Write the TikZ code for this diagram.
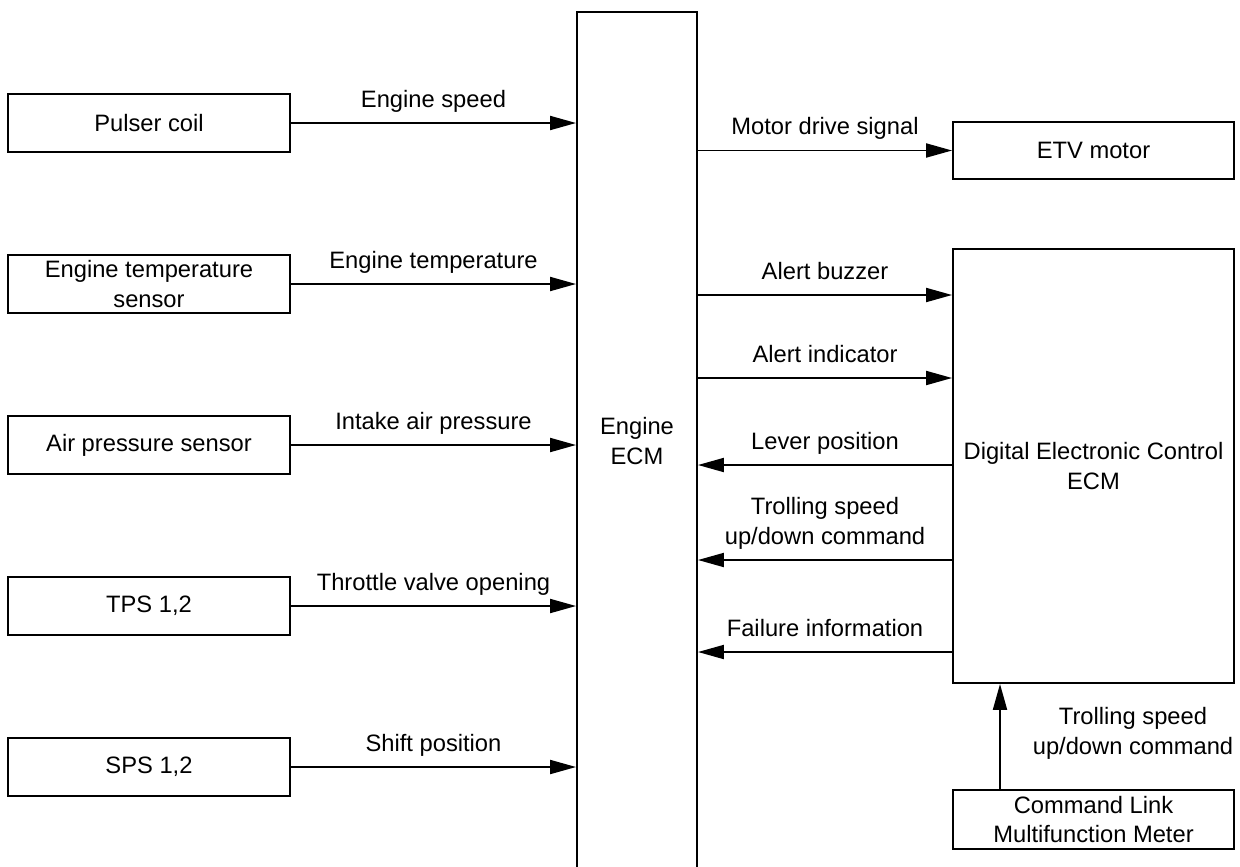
\documentclass[tikz,border=0pt]{standalone}
\usepackage{fontspec}
\setmainfont{Liberation Sans}
\usepackage{tikz}
\usetikzlibrary{arrows.meta, positioning}

\begin{document}
\begin{tikzpicture}[
    x=0.02cm, y=-0.02cm,
    font=\fontsize{13.5}{17}\selectfont,
    box/.style={rectangle, draw, line width=1.1pt, minimum width=5.64cm, minimum height=1.16cm, align=center, inner sep=1pt},
    arrow/.style={line width=1.1pt, -{Triangle[length=0.52cm, width=0.28cm]}},
    sig/.style={inner sep=0pt, text depth=0.22em, align=center, above=0.22cm}
]
\useasboundingbox (0,0) rectangle (1240,866);

% Sensors
\node[box] (pulser) at (149,123) {Pulser coil};
\node[box] (temp) at (149,284) {Engine temperature\\sensor};
\node[box] (air) at (149,445) {Air pressure sensor};
\node[box] (tps) at (149,606) {TPS 1,2};
\node[box] (sps) at (149,767) {SPS 1,2};

% Engine ECM
\node[box, minimum width=2.4cm, minimum height=17.16cm] (ecm) at (637,441) {Engine\\ECM};

% Outputs and DEC
\node[box, minimum width=5.62cm, minimum height=1.14cm] (etv) at (1093.5,150.5) {ETV motor};
\node[box, minimum width=5.62cm, minimum height=8.68cm] (dec) at (1093.5,466) {Digital Electronic Control\\ECM};
\node[box, minimum width=5.62cm, minimum height=1.18cm] (cmd) at (1093.5,819.5) {Command Link\\Multifunction Meter};

% Arrows to Engine ECM
\draw[arrow] (pulser.east) -- (pulser.east -| ecm.west) node[midway, sig] {Engine speed};
\draw[arrow] (temp.east) -- (temp.east -| ecm.west) node[midway, sig] {Engine temperature};
\draw[arrow] (air.east) -- (air.east -| ecm.west) node[midway, sig] {Intake air pressure};
\draw[arrow] (tps.east) -- (tps.east -| ecm.west) node[midway, sig] {Throttle valve opening};
\draw[arrow] (sps.east) -- (sps.east -| ecm.west) node[midway, sig] {Shift position};

% Arrows between Engine ECM and DEC
\draw[arrow] (ecm.east |- etv.west) -- (etv.west) node[midway, sig] {Motor drive signal};
\draw[arrow] (ecm.east |- 0,295) -- (dec.west |- 0,295) node[midway, sig] {Alert buzzer};
\draw[arrow] (ecm.east |- 0,378) -- (dec.west |- 0,378) node[midway, sig] {Alert indicator};
\draw[arrow] (dec.west |- 0,465) -- (ecm.east |- 0,465) node[midway, sig] {Lever position};
\draw[arrow] (dec.west |- 0,560) -- (ecm.east |- 0,560) node[midway, sig] {Trolling speed\\up/down command};
\draw[arrow] (dec.west |- 0,652) -- (ecm.east |- 0,652) node[midway, sig] {Failure information};

% Command Link to DEC
\draw[arrow] (cmd.north -| 1000,0) -- (dec.south -| 1000,0);
\node[align=center] (cmdsig) at (1133,733) {Trolling speed\\up/down command};

\end{tikzpicture}
\end{document}
